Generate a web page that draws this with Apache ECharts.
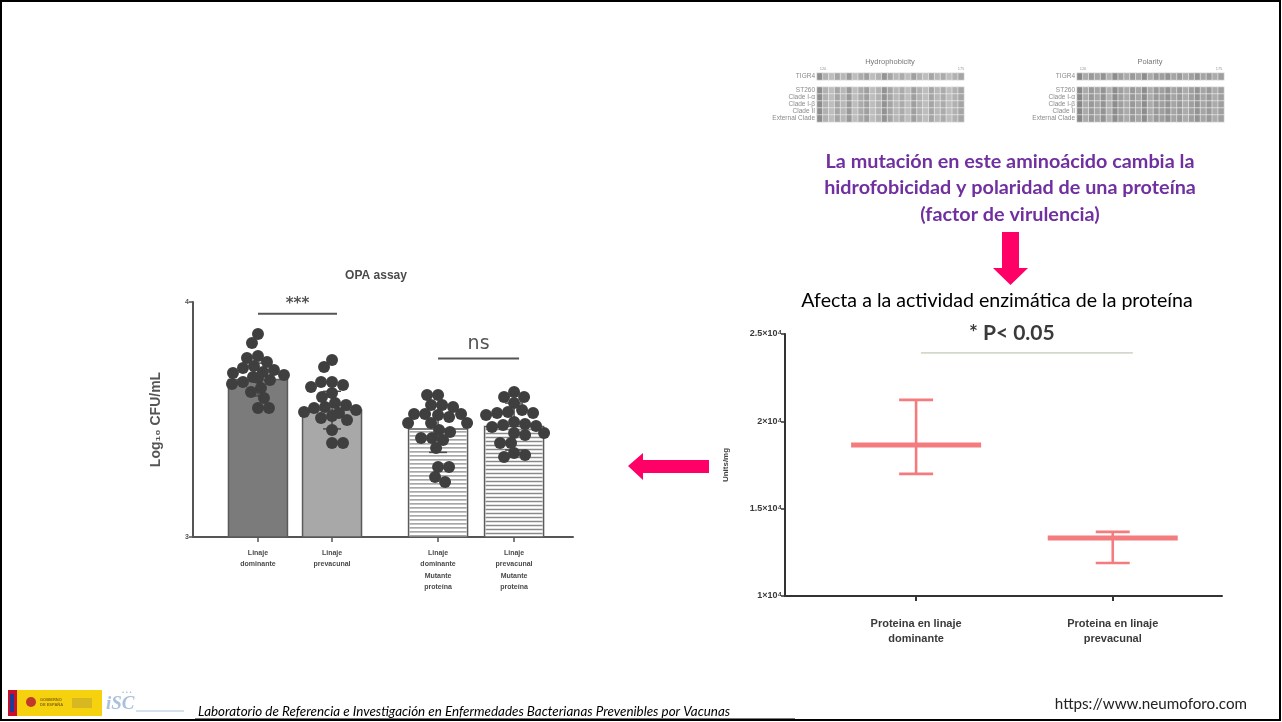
<!DOCTYPE html>
<html>
<head>
<meta charset="utf-8">
<script src="https://cdn.jsdelivr.net/npm/echarts@6/dist/echarts.min.js"></script>
<style>
  html, body { margin: 0; padding: 0; background: #ffffff; }
  #chart { width: 1282px; height: 722px; }
</style>
</head>
<body>
<div id="chart"></div>
<script>
// ---------- OPA assay (left panel) ----------
const opaCategories = ['Linaje\ndominante', 'Linaje\nprevacunal', 'Linaje\ndominante\nMutante\nproteína', 'Linaje\nprevacunal\nMutante\nproteína'];
const opaMeans = [3.67, 3.54, 3.46, 3.47];
const opaSD = [0.07, 0.08, 0.10, 0.10];
const opaYTicks = [3, 4];
const opaDotsDominante = [3.864, 3.826, 3.770, 3.762, 3.745, 3.728, 3.719, 3.711, 3.702, 3.698, 3.689, 3.681, 3.677, 3.668, 3.660, 3.651, 3.634, 3.617, 3.591, 3.549, 3.549];
const opaDotsPrevacunal = [3.753, 3.723, 3.660, 3.660, 3.647, 3.638, 3.613, 3.596, 3.570, 3.562, 3.553, 3.549, 3.540, 3.532, 3.528, 3.515, 3.506, 3.498, 3.455, 3.400, 3.400];
const opaDotsDomMutante = [3.604, 3.604, 3.562, 3.562, 3.553, 3.523, 3.523, 3.523, 3.519, 3.511, 3.485, 3.485, 3.485, 3.455, 3.447, 3.421, 3.421, 3.413, 3.379, 3.298, 3.298, 3.255, 3.234];
const opaDotsPreMutante = [3.617, 3.596, 3.596, 3.570, 3.540, 3.532, 3.528, 3.528, 3.519, 3.489, 3.481, 3.477, 3.472, 3.468, 3.443, 3.443, 3.434, 3.400, 3.400, 3.357, 3.349, 3.340];
const opaSignificance = [
  { from: 0, to: 1, y: 3.95, text: '***' },
  { from: 2, to: 3, y: 3.76, text: 'ns' }
];

// ---------- enzyme activity (right panel) ----------
const protCategories = ['Proteina en linaje\ndominante', 'Proteina en linaje\nprevacunal'];
const protMean = [18650, 13320];
const protUpper = [21230, 13670];
const protLower = [16990, 11890];
const protYTicks = [10000, 15000, 20000, 25000];
const protSigY = 23920;
const protSigText = '* P< 0.05';

// ---------- sequence alignment panels ----------
const alignRows = ['TIGR4', '', 'ST260', 'Clade I-α', 'Clade I-β', 'Clade II', 'External Clade'];
const hydroShade = [0.7, 0.4, 0.3, 0.5, 0.35, 0.6, 0.3, 0.45, 0.55, 0.3, 0.4, 0.65, 0.5, 0.35, 0.45, 0.3, 0.55, 0.4, 0.3, 0.5, 0.35, 0.45, 0.3, 0.4, 0.5];
const polarShade = [0.75, 0.45, 0.6, 0.5, 0.65, 0.4, 0.7, 0.55, 0.45, 0.6, 0.5, 0.7, 0.45, 0.6, 0.55, 0.65, 0.5, 0.6, 0.45, 0.55, 0.65, 0.5, 0.6, 0.45, 0.55];

// ---------- layout ----------
const OPA_GRID = { left: 193, top: 302, width: 380, height: 235 };
const OPA_X_MAX = 5.1;
const opaSlots = [0.872, 1.866, 3.289, 4.309];
const PROT_GRID = { left: 785, top: 334, width: 437, height: 262 };
const protSlots = [3, 7.5];
const PINK = '#ff0066';

const opaPxPerX = OPA_GRID.width / OPA_X_MAX;
const opaPxPerY = OPA_GRID.height / (opaYTicks[1] - opaYTicks[0]);

// Spread overlapping dots sideways (beeswarm) so each one stays visible.
function swarmOffsets(values, minDist, maxHalf) {
  const placed = [];
  const offs = new Array(values.length).fill(0);
  const order = values.map((v, i) => i).sort((a, b) => values[b] - values[a]);
  order.forEach((i, n) => {
    const py = values[i] * opaPxPerY;
    let chosen = null;
    for (let s = 0; s <= 60 && chosen === null; s++) {
      const sign = n % 2 === 0 ? 1 : -1;
      const cands = s === 0 ? [0] : [sign * s, -sign * s];
      for (const dx of cands) {
        if (Math.abs(dx) > maxHalf) continue;
        const ok = placed.every(p => (p.x - dx) ** 2 + (p.y - py) ** 2 >= minDist * minDist);
        if (ok) { chosen = dx; break; }
      }
    }
    if (chosen === null) chosen = 0;
    placed.push({ x: chosen, y: py });
    offs[i] = chosen / opaPxPerX;
  });
  return offs;
}

const dotGroups = [opaDotsDominante, opaDotsPrevacunal, opaDotsDomMutante, opaDotsPreMutante];
const dotData = [];
dotGroups.forEach((vals, g) => {
  const offs = swarmOffsets(vals, 10.5, 30);
  vals.forEach((v, i) => dotData.push([opaSlots[g] + offs[i], v]));
});

const barFill = ['#7b7b7b', '#a8a8a8', 'hatch', 'hatch'];

function renderOpaBar(params, api) {
  const k = api.value(3);
  const x = api.value(0), m = api.value(1), sd = api.value(2);
  const top = api.coord([x, m]);
  const base = api.coord([x, opaYTicks[0]]);
  const hw = 29.5;
  const children = [];
  const hatched = barFill[k] === 'hatch';
  children.push({
    type: 'rect',
    shape: { x: top[0] - hw, y: top[1], width: hw * 2, height: base[1] - top[1] },
    style: { fill: hatched ? '#ffffff' : barFill[k], stroke: '#5a5a5a', lineWidth: 1.5 }
  });
  if (hatched) {
    for (let yy = top[1] + 3; yy < base[1] - 1; yy += 4) {
      children.push({
        type: 'line',
        shape: { x1: top[0] - hw + 1, y1: yy, x2: top[0] + hw - 1, y2: yy },
        style: { stroke: '#8a8a8a', lineWidth: 1.4 }
      });
    }
  }
  const hi = api.coord([x, m + sd]);
  const lo = api.coord([x, m - sd]);
  children.push({ type: 'line', shape: { x1: hi[0], y1: hi[1], x2: lo[0], y2: lo[1] }, style: { stroke: '#4a4a4a', lineWidth: 1.5 } });
  children.push({ type: 'line', shape: { x1: hi[0] - 9, y1: hi[1], x2: hi[0] + 9, y2: hi[1] }, style: { stroke: '#4a4a4a', lineWidth: 1.5 } });
  children.push({ type: 'line', shape: { x1: lo[0] - 9, y1: lo[1], x2: lo[0] + 9, y2: lo[1] }, style: { stroke: '#4a4a4a', lineWidth: 1.5 } });
  return { type: 'group', children };
}

function renderOpaSig(params, api) {
  const s = opaSignificance[params.dataIndex];
  const a = api.coord([api.value(0), api.value(2)]);
  const b = api.coord([api.value(1), api.value(2)]);
  const isNs = s.text === 'ns';
  return {
    type: 'group',
    children: [
      { type: 'line', shape: { x1: a[0], y1: a[1], x2: b[0] + 5, y2: b[1] }, style: { stroke: '#555555', lineWidth: 2 } },
      {
        type: 'text',
        style: {
          text: s.text, x: (a[0] + b[0] + 5) / 2, y: a[1] - (isNs ? 14 : 10),
          textAlign: 'center', textVerticalAlign: 'middle',
          font: isNs ? '19px "DejaVu Sans"' : 'bold 15px "DejaVu Sans"', fill: '#555555'
        }
      }
    ]
  };
}

function renderProt(params, api) {
  const x = api.value(0);
  const mean = api.coord([x, api.value(1)]);
  const up = api.coord([x, api.value(2)]);
  const lo = api.coord([x, api.value(3)]);
  const c = '#f47c7f';
  return {
    type: 'group',
    children: [
      { type: 'line', shape: { x1: up[0], y1: up[1], x2: lo[0], y2: lo[1] }, style: { stroke: c, lineWidth: 2.6 } },
      { type: 'line', shape: { x1: up[0] - 17, y1: up[1], x2: up[0] + 17, y2: up[1] }, style: { stroke: c, lineWidth: 2.6 } },
      { type: 'line', shape: { x1: lo[0] - 17, y1: lo[1], x2: lo[0] + 17, y2: lo[1] }, style: { stroke: c, lineWidth: 2.6 } },
      { type: 'line', shape: { x1: mean[0] - 65, y1: mean[1], x2: mean[0] + 65, y2: mean[1] }, style: { stroke: c, lineWidth: 5 } }
    ]
  };
}

function renderProtSig(params, api) {
  const a = api.coord([api.value(0), api.value(2)]);
  const b = api.coord([api.value(1), api.value(2)]);
  const t = api.coord([api.value(3), api.value(2)]);
  return {
    type: 'group',
    children: [
      { type: 'line', shape: { x1: a[0], y1: a[1], x2: b[0], y2: b[1] }, style: { stroke: '#d3d8cc', lineWidth: 1.6 } },
      {
        type: 'text',
        style: {
          text: protSigText, x: t[0], y: a[1] - 20, textAlign: 'center', textVerticalAlign: 'middle',
          font: 'bold 21px Lato', fill: '#3a3a3a'
        }
      }
    ]
  };
}

function heatData(shade) {
  const out = [];
  alignRows.forEach((r, ri) => {
    if (!r) return;
    shade.forEach((v, ci) => out.push([ci, ri, v]));
  });
  return out;
}
const colIdx = hydroShade.map((v, i) => i);

const chart = echarts.init(document.getElementById('chart'), null, { renderer: 'canvas' });

const alignYAxis = (gi) => ({
  gridIndex: gi, type: 'category', data: alignRows, inverse: true,
  axisLine: { show: false }, axisTick: { show: false },
  axisLabel: { interval: 0, fontSize: 6.5, color: '#8a8a8a', margin: 2, fontFamily: 'Liberation Sans' }
});

const option = {
  backgroundColor: '#ffffff',
  animation: false,
  grid: [
    { left: OPA_GRID.left, top: OPA_GRID.top, width: OPA_GRID.width, height: OPA_GRID.height },
    { left: PROT_GRID.left, top: PROT_GRID.top, width: PROT_GRID.width, height: PROT_GRID.height },
    { left: 817, top: 73, width: 147, height: 49 },
    { left: 1077, top: 73, width: 147, height: 49 }
  ],
  xAxis: [
    {
      gridIndex: 0, type: 'value', min: 0, max: OPA_X_MAX,
      axisLine: { show: true, lineStyle: { color: '#555555', width: 2 } },
      splitLine: { show: false },
      axisTick: { show: true, customValues: opaSlots, length: 5, lineStyle: { color: '#555555', width: 1.5 } },
      axisLabel: {
        customValues: opaSlots, margin: 10,
        formatter: v => opaCategories[opaSlots.indexOf(v)] || '',
        fontSize: 7, fontWeight: 'bold', lineHeight: 11.5, color: '#4a4a4a', fontFamily: 'Liberation Sans'
      }
    },
    {
      gridIndex: 1, type: 'value', min: 0, max: 10,
      axisLine: { show: true, lineStyle: { color: '#333333', width: 2 } },
      splitLine: { show: false },
      axisTick: { show: true, customValues: protSlots, length: 5, lineStyle: { color: '#333333', width: 2 } },
      axisLabel: {
        customValues: protSlots, margin: 20,
        formatter: v => protCategories[protSlots.indexOf(v)] || '',
        fontSize: 11, fontWeight: 'bold', lineHeight: 15, color: '#3a3a3a', fontFamily: 'Liberation Sans'
      }
    },
    { gridIndex: 2, type: 'category', data: colIdx, show: false },
    { gridIndex: 3, type: 'category', data: colIdx, show: false }
  ],
  yAxis: [
    {
      gridIndex: 0, type: 'value', min: opaYTicks[0], max: opaYTicks[1], interval: 1,
      name: 'Log₁₀ CFU/mL', nameLocation: 'middle', nameRotate: 90, nameGap: 30,
      nameTextStyle: { fontSize: 14, fontWeight: 'bold', color: '#555555', fontFamily: 'Liberation Sans' },
      axisLine: { show: true, lineStyle: { color: '#555555', width: 2 } },
      axisTick: { show: true, length: 4, lineStyle: { color: '#555555', width: 1.5 } },
      splitLine: { show: false },
      axisLabel: { fontSize: 7, color: '#555555', margin: 4, fontFamily: 'Liberation Sans', fontWeight: 'bold' }
    },
    {
      gridIndex: 1, type: 'value', min: protYTicks[0], max: protYTicks[3], interval: 5000,
      name: 'Units/mg', nameLocation: 'middle', nameRotate: 90, nameGap: 55,
      nameTextStyle: { fontSize: 8, fontWeight: 'bold', color: '#444444', fontFamily: 'Liberation Sans' },
      axisLine: { show: true, lineStyle: { color: '#333333', width: 2 } },
      axisTick: { show: true, length: 4, lineStyle: { color: '#333333', width: 1.5 } },
      splitLine: { show: false },
      axisLabel: {
        formatter: v => (v / 10000) + '×10⁴',
        fontSize: 9, fontWeight: 'bold', color: '#3a3a3a', margin: 3, fontFamily: 'Liberation Sans'
      }
    },
    alignYAxis(2),
    alignYAxis(3)
  ],
  visualMap: {
    show: false, min: 0, max: 1, seriesIndex: [5, 6],
    inRange: { color: ['#e0e0e0', '#6a6a6a'] }
  },
  series: [
    {
      type: 'custom', xAxisIndex: 0, yAxisIndex: 0, renderItem: renderOpaBar, z: 2,
      data: opaMeans.map((m, i) => [opaSlots[i], m, opaSD[i], i])
    },
    {
      type: 'scatter', xAxisIndex: 0, yAxisIndex: 0, symbolSize: 12, z: 3,
      itemStyle: { color: '#3f3f3f', opacity: 1 },
      data: dotData
    },
    {
      type: 'custom', xAxisIndex: 0, yAxisIndex: 0, renderItem: renderOpaSig, z: 3,
      data: opaSignificance.map(s => [opaSlots[s.from], opaSlots[s.to], s.y])
    },
    {
      type: 'custom', xAxisIndex: 1, yAxisIndex: 1, renderItem: renderProt, z: 2,
      data: protMean.map((m, i) => [protSlots[i], m, protUpper[i], protLower[i]])
    },
    {
      type: 'custom', xAxisIndex: 1, yAxisIndex: 1, renderItem: renderProtSig, z: 2,
      data: [[3.11, 7.96, protSigY, 5.19]]
    },
    {
      type: 'heatmap', xAxisIndex: 2, yAxisIndex: 2, data: heatData(hydroShade),
      itemStyle: { borderColor: '#f2f2f2', borderWidth: 0.6 }
    },
    {
      type: 'heatmap', xAxisIndex: 3, yAxisIndex: 3, data: heatData(polarShade),
      itemStyle: { borderColor: '#f2f2f2', borderWidth: 0.6 }
    }
  ],
  graphic: [
    // slide frame
    { type: 'rect', shape: { x: 1, y: 1, width: 1279, height: 719 }, style: { fill: 'none', stroke: '#000000', lineWidth: 2 }, z: 100 },
    // alignment panel headings
    { type: 'text', style: { text: 'Hydrophobicity', x: 890, y: 62, textAlign: 'center', textVerticalAlign: 'middle', font: '7.5px "Liberation Sans"', fill: '#777777' } },
    { type: 'text', style: { text: 'Polarity', x: 1150, y: 62, textAlign: 'center', textVerticalAlign: 'middle', font: '7.5px "Liberation Sans"', fill: '#777777' } },
    { type: 'text', style: { text: '120', x: 823, y: 69, textAlign: 'center', textVerticalAlign: 'middle', font: '4px "Liberation Sans"', fill: '#999999' } },
    { type: 'text', style: { text: '175', x: 961, y: 69, textAlign: 'center', textVerticalAlign: 'middle', font: '4px "Liberation Sans"', fill: '#999999' } },
    { type: 'text', style: { text: '120', x: 1083, y: 69, textAlign: 'center', textVerticalAlign: 'middle', font: '4px "Liberation Sans"', fill: '#999999' } },
    { type: 'text', style: { text: '175', x: 1219, y: 69, textAlign: 'center', textVerticalAlign: 'middle', font: '4px "Liberation Sans"', fill: '#999999' } },
    // explanatory text
    {
      type: 'text',
      style: {
        text: 'La mutación en este aminoácido cambia la\nhidrofobicidad y polaridad de una proteína\n(factor de virulencia)',
        x: 1010, y: 188, textAlign: 'center', textVerticalAlign: 'middle', lineHeight: 26.5,
        font: 'bold 19.8px Lato', fill: '#7030a0'
      }
    },
    // down arrow
    {
      type: 'polygon',
      shape: { points: [[1002, 232], [1019, 232], [1019, 268], [1028, 268], [1010.5, 285], [993, 268], [1002, 268]] },
      style: { fill: PINK }
    },
    {
      type: 'text',
      style: { text: 'Afecta a la actividad enzimática de la proteína', x: 997, y: 301, textAlign: 'center', textVerticalAlign: 'middle', font: '19.6px Lato', fill: '#000000' }
    },
    { type: 'text', style: { text: 'OPA assay', x: 376, y: 276, textAlign: 'center', textVerticalAlign: 'middle', font: 'bold 12px "Liberation Sans"', fill: '#4a4a4a' } },
    // left arrow
    {
      type: 'polygon',
      shape: { points: [[709, 460], [643, 460], [643, 453], [628, 466], [643, 480], [643, 473], [709, 473]] },
      style: { fill: PINK }
    },
    // footer logos
    { type: 'rect', shape: { x: 8, y: 690, width: 9, height: 26 }, style: { fill: '#c8102e' } },
    { type: 'rect', shape: { x: 10, y: 694, width: 4, height: 18 }, style: { fill: '#1f3a93' } },
    { type: 'rect', shape: { x: 17, y: 690, width: 85, height: 26 }, style: { fill: '#f6d10d' } },
    { type: 'circle', shape: { cx: 31, cy: 702, r: 5 }, style: { fill: '#c0392b' } },
    { type: 'text', style: { text: 'GOBIERNO\nDE ESPAÑA', x: 40, y: 702, textVerticalAlign: 'middle', font: 'bold 4px "Liberation Sans"', fill: '#8a6a10', lineHeight: 5 } },
    { type: 'rect', shape: { x: 72, y: 698, width: 20, height: 10 }, style: { fill: '#d8b820' } },
    { type: 'text', style: { text: 'iSC', x: 106, y: 704, textVerticalAlign: 'middle', font: 'italic bold 19px "Liberation Serif"', fill: '#a9c1dd' } },
    { type: 'text', style: { text: '• • •', x: 122, y: 692, textVerticalAlign: 'middle', font: '6px "Liberation Sans"', fill: '#a9c1dd' } },
    { type: 'line', shape: { x1: 136, y1: 711, x2: 184, y2: 711 }, style: { stroke: '#a9c1dd', lineWidth: 1.2 } },
    {
      type: 'text',
      style: { text: 'Laboratorio de Referencia e Investigación en Enfermedades Bacterianas Prevenibles por Vacunas', x: 198, y: 712, textVerticalAlign: 'middle', font: 'italic 13.4px Lato', fill: '#000000' }
    },
    { type: 'line', shape: { x1: 195, y1: 718.5, x2: 795, y2: 718.5 }, style: { stroke: '#7a7a7a', lineWidth: 1 } },
    { type: 'text', style: { text: 'https://www.neumoforo.com', x: 1247, y: 704, textAlign: 'right', textVerticalAlign: 'middle', font: '15.2px Lato', fill: '#222222' } }
  ]
};

chart.setOption(option);
</script>
</body>
</html>
